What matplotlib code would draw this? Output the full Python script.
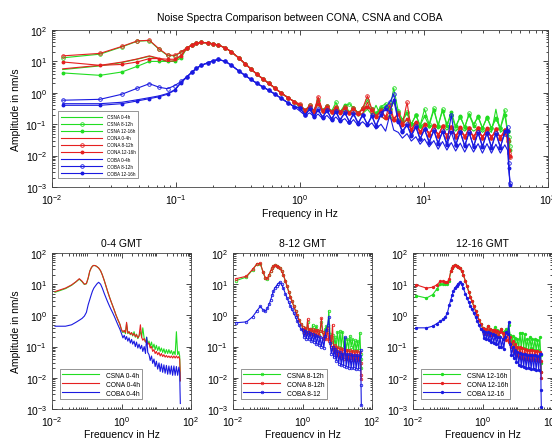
import matplotlib
matplotlib.use("Agg")
import matplotlib.pyplot as plt
from matplotlib.ticker import FixedLocator, LogLocator, NullFormatter

plt.rcParams['font.family'] = ['Liberation Sans', 'DejaVu Sans']
plt.rcParams['mathtext.default'] = 'regular'

# ---- DATA ----
f_low = [0.0122, 0.0244, 0.0366, 0.0488, 0.061, 0.0732, 0.0854, 0.0977, 0.11, 0.122, 0.134, 0.146]
f_mid = [0.16, 0.18, 0.2, 0.22, 0.25, 0.28, 0.32, 0.36, 0.4, 0.45, 0.5, 0.56, 0.63, 0.7, 0.8, 0.9]
f_high = [1.0, 1.1, 1.2, 1.3, 1.4, 1.52, 1.65, 1.8, 1.95, 2.1,
          2.3, 2.5, 2.7, 2.95, 3.2, 3.5, 3.8, 4.1, 4.5, 4.9,
          5.3, 5.7, 6.2, 6.7, 7.3, 7.9, 8.6, 9.3, 10.1, 11,
          12, 13, 14.1, 15.3, 16.6, 18, 19.6, 21.3, 23.1, 25.1,
          27.3, 29.6, 32.2, 35, 38, 41.3, 44.8, 47.2, 48.3, 49.3]
freq = f_low + f_mid + f_high

# common part of the microseism peak
rg_mid = [40, 39, 36, 33, 27, 20, 13, 8.5, 5.8, 3.9, 2.8, 2.0, 1.4, 1.0, 0.7, 0.52]
b_mid = [7.5, 9, 10.5, 11.5, 10, 7.5, 5, 3.6, 2.7, 2.0, 1.55, 1.2, 0.9, 0.68, 0.48, 0.36]

csna_04 = [5.5, 7.2, 9.2, 11.8, 14.5, 12, 9.8, 10.3, 15.5, 26, 33, 38] + rg_mid + [
    0.33, 0.28, 0.32, 0.26, 0.55, 0.26, 0.3, 0.24, 0.28, 0.22,
    0.3, 0.2, 0.25, 0.18, 0.22, 0.3, 0.2, 0.4, 0.18, 0.14,
    0.2, 0.12, 0.15, 0.1, 0.14, 0.09, 0.12, 0.08, 0.11, 0.075,
    0.1, 0.07, 0.09, 0.065, 0.085, 0.06, 0.08, 0.06, 0.08, 0.06,
    0.075, 0.055, 0.07, 0.055, 0.3, 0.055, 0.07, 0.05, 0.02, 0.008]
csna_812 = [13, 17, 29, 44, 46, 24, 15.5, 15, 19.5, 27, 33, 38] + rg_mid + [
    0.42, 0.28, 0.4, 0.27, 0.6, 0.28, 0.38, 0.26, 0.5, 0.25,
    0.36, 0.45, 0.33, 0.23, 0.32, 0.6, 0.3, 0.22, 0.36, 0.45,
    0.3, 1.4, 0.26, 0.14, 0.24, 0.1, 0.2, 0.09, 0.3, 0.1,
    0.32, 0.09, 0.3, 0.1, 0.19, 0.08, 0.17, 0.08, 0.22, 0.1,
    0.17, 0.075, 0.16, 0.075, 0.15, 0.075, 0.28, 0.06, 0.04, 0.02]
csna_1216 = [4.3, 3.6, 4.6, 7, 10, 10, 10, 10, 13, 26, 33, 38] + rg_mid + [
    0.4, 0.27, 0.38, 0.26, 0.45, 0.26, 0.37, 0.25, 0.35, 0.24,
    0.42, 0.24, 0.34, 0.22, 0.32, 0.36, 0.3, 0.21, 0.32, 0.36,
    0.3, 0.5, 0.24, 0.13, 0.22, 0.1, 0.19, 0.09, 0.18, 0.09,
    0.28, 0.09, 0.27, 0.09, 0.25, 0.085, 0.18, 0.08, 0.2, 0.09,
    0.18, 0.075, 0.17, 0.075, 0.16, 0.075, 0.2, 0.055, 0.03, 0.015]
cona_04 = [5.8, 7.5, 9.5, 12, 15, 12.5, 10, 10.5, 16, 26, 33, 38] + rg_mid + [
    0.35, 0.3, 0.33, 0.28, 0.6, 0.27, 0.3, 0.25, 0.28, 0.23,
    0.26, 0.21, 0.24, 0.19, 0.22, 0.5, 0.2, 0.16, 0.18, 0.14,
    0.16, 0.12, 0.13, 0.09, 0.1, 0.07, 0.08, 0.06, 0.07, 0.055,
    0.065, 0.05, 0.06, 0.048, 0.055, 0.046, 0.052, 0.045, 0.05, 0.044,
    0.05, 0.043, 0.05, 0.043, 0.05, 0.043, 0.048, 0.04, 0.02, 0.008]
cona_812 = [15, 18, 30, 45, 47, 25, 16, 15.5, 20, 27, 33, 38] + rg_mid + [
    0.44, 0.27, 0.4, 0.26, 0.75, 0.27, 0.38, 0.25, 0.36, 0.24,
    0.35, 0.23, 0.33, 0.22, 0.32, 0.8, 0.3, 0.18, 0.28, 0.17,
    0.4, 0.15, 0.22, 0.1, 0.5, 0.065, 0.11, 0.055, 0.095, 0.045,
    0.09, 0.042, 0.085, 0.04, 0.08, 0.04, 0.078, 0.038, 0.075, 0.038,
    0.074, 0.037, 0.072, 0.036, 0.07, 0.036, 0.065, 0.03, 0.012, 0.009]
cona_1216 = [9.6, 7.5, 8, 9.6, 12.3, 12.3, 11.7, 11.7, 15, 26, 33, 38] + rg_mid + [
    0.4, 0.26, 0.38, 0.25, 0.45, 0.26, 0.36, 0.24, 0.34, 0.23,
    0.33, 0.22, 0.31, 0.21, 0.3, 0.36, 0.28, 0.17, 0.27, 0.16,
    0.26, 0.14, 0.21, 0.095, 0.15, 0.065, 0.12, 0.055, 0.1, 0.045,
    0.095, 0.042, 0.088, 0.04, 0.082, 0.039, 0.08, 0.038, 0.076, 0.037,
    0.075, 0.036, 0.073, 0.036, 0.07, 0.035, 0.066, 0.035, 0.015, 0.01]
coba_04 = [0.45, 0.45, 0.5, 0.6, 0.7, 0.8, 0.95, 1.25, 2.2, 3.2, 4.5, 6] + b_mid + [
    0.26, 0.19, 0.23, 0.17, 0.21, 0.15, 0.19, 0.13, 0.17, 0.12,
    0.15, 0.1, 0.14, 0.09, 0.12, 0.085, 0.11, 0.07, 0.1, 0.06,
    0.2, 0.065, 0.055, 0.036, 0.05, 0.029, 0.04, 0.023, 0.034, 0.019,
    0.03, 0.016, 0.028, 0.015, 0.026, 0.014, 0.025, 0.013, 0.024, 0.013,
    0.024, 0.012, 0.024, 0.012, 0.023, 0.012, 0.022, 0.015, 0.004, 0.0015]
coba_812 = [0.58, 0.62, 0.9, 1.4, 1.95, 1.5, 1.35, 1.7, 2.3, 3.2, 4.5, 6] + b_mid + [
    0.34, 0.2, 0.32, 0.18, 0.3, 0.17, 0.28, 0.15, 0.26, 0.14,
    0.24, 0.12, 0.22, 0.11, 0.2, 0.1, 0.19, 0.09, 0.22, 0.35,
    0.5, 0.9, 0.13, 0.06, 0.1, 0.045, 0.085, 0.035, 0.07, 0.028,
    0.065, 0.025, 0.06, 0.024, 0.2, 0.022, 0.058, 0.021, 0.056, 0.02,
    0.055, 0.02, 0.054, 0.019, 0.052, 0.019, 0.05, 0.08, 0.006, 0.0013]
coba_1216 = [0.4, 0.4, 0.45, 0.55, 0.65, 0.75, 0.9, 1.2, 2.1, 3.1, 4.5, 6] + b_mid + [
    0.32, 0.19, 0.3, 0.17, 0.29, 0.16, 0.27, 0.14, 0.25, 0.13,
    0.23, 0.12, 0.21, 0.1, 0.2, 0.095, 0.18, 0.085, 0.2, 0.3,
    0.25, 0.6, 0.12, 0.055, 0.095, 0.042, 0.08, 0.033, 0.068, 0.026,
    0.062, 0.024, 0.058, 0.022, 0.056, 0.021, 0.055, 0.02, 0.054, 0.019,
    0.053, 0.019, 0.052, 0.018, 0.05, 0.018, 0.06, 0.06, 0.004, 0.0012]

green = '#22dd22'
red = '#e52020'
blue = '#1a1ae0'

# (values, colour, marker, legend label top, legend label bottom)
series = [
    (csna_04, green, None, "CSNA 0-4h", "CSNA 0-4h"),
    (csna_812, green, 'o', "CSNA 8-12h", "CSNA 8-12h"),
    (csna_1216, green, '.', "CSNA 12-16h", "CSNA 12-16h"),
    (cona_04, red, None, "CONA 0-4h", "CONA 0-4h"),
    (cona_812, red, 'o', "CONA 8-12h", "CONA 8-12h"),
    (cona_1216, red, '.', "CONA 12-16h", "CONA 12-16h"),
    (coba_04, blue, None, "COBA 0-4h", "COBA 0-4h"),
    (coba_812, blue, 'o', "COBA 8-12h", "COBA 8-12"),
    (coba_1216, blue, '.', "COBA 12-16h", "COBA 12-16"),
]


def style_axes(ax, xmajor):
    ax.set_xscale('log')
    ax.set_yscale('log')
    ax.set_xlim(1e-2, 1e2)
    ax.set_ylim(1e-3, 1e2)
    ax.xaxis.set_major_locator(FixedLocator(xmajor))
    ax.xaxis.set_minor_locator(LogLocator(base=10, subs=range(1, 10), numticks=20))
    ax.xaxis.set_minor_formatter(NullFormatter())
    ax.yaxis.set_major_locator(FixedLocator([1e-3, 1e-2, 1e-1, 1e0, 1e1, 1e2]))
    ax.yaxis.set_minor_locator(LogLocator(base=10, subs=range(2, 10), numticks=20))
    ax.yaxis.set_minor_formatter(NullFormatter())
    ax.tick_params(which='both', direction='in', top=True, right=True,
                   labelsize=7.5, width=0.5)
    ax.tick_params(which='major', length=3.5)
    ax.tick_params(which='minor', length=1.8)
    for s in ax.spines.values():
        s.set_linewidth(0.6)
        s.set_color('#444444')


def draw(ax, items, lw=0.8, ms=2.6):
    for vals, col, mk, lab in items:
        if mk is None:
            ax.plot(freq, vals, color=col, lw=lw, label=lab)
        elif mk == 'o':
            ax.plot(freq, vals, color=col, lw=lw, marker='o', ms=ms,
                    mfc='none', mew=0.6, label=lab)
        else:
            ax.plot(freq, vals, color=col, lw=lw, marker='.', ms=ms + 1,
                    label=lab)


fig = plt.figure(figsize=(5.52, 4.39), dpi=100)

# ---- TOP PANEL ----
ax = fig.add_axes([52 / 552, 1 - 188 / 439, 496 / 552, 157 / 439])
draw(ax, [(s[0], s[1], s[2], s[3]) for s in series])
style_axes(ax, [1e-2, 1e-1, 1e0, 1e1, 1e2])
ax.set_title("Noise Spectra Comparison between CONA, CSNA and COBA", fontsize=7.5, pad=7)
ax.set_xlabel("Frequency in Hz", fontsize=7.5, labelpad=2)
ax.set_ylabel("Amplitude in nm/s", fontsize=7.5, labelpad=3)
leg = ax.legend(loc='lower left', bbox_to_anchor=(0.008, 0.04), fontsize=3.3,
                handlelength=9, handletextpad=1.0, labelspacing=0.45,
                borderpad=0.6, frameon=True, fancybox=False)
leg.get_frame().set_linewidth(0.5)
leg.get_frame().set_edgecolor('#444444')

# ---- BOTTOM PANELS ----
panels = [
    (52, "0-4 GMT", [0, 3, 6]),
    (233, "8-12 GMT", [1, 4, 7]),
    (413, "12-16 GMT", [2, 5, 8]),
]
for i, (x0, title, idx) in enumerate(panels):
    axb = fig.add_axes([x0 / 552, 1 - 410 / 439, 139 / 552, 156 / 439])
    draw(axb, [(series[k][0], series[k][1], series[k][2], series[k][4]) for k in idx],
         lw=0.8, ms=1.8)
    style_axes(axb, [1e-2, 1e0, 1e2])
    axb.set_title(title, fontsize=7.5, pad=5)
    axb.set_xlabel("Frequency in Hz", fontsize=7.5, labelpad=1)
    if i == 0:
        axb.set_ylabel("Amplitude in nm/s", fontsize=7.5, labelpad=3)
    lg = axb.legend(loc='lower left', bbox_to_anchor=(0.03, 0.04), fontsize=4.8,
                    handlelength=5.5, handletextpad=1.0, labelspacing=0.3,
                    borderpad=0.4, frameon=True, fancybox=False)
    lg.get_frame().set_linewidth(0.5)
    lg.get_frame().set_edgecolor('#444444')

fig.savefig("out.png", dpi=100)
